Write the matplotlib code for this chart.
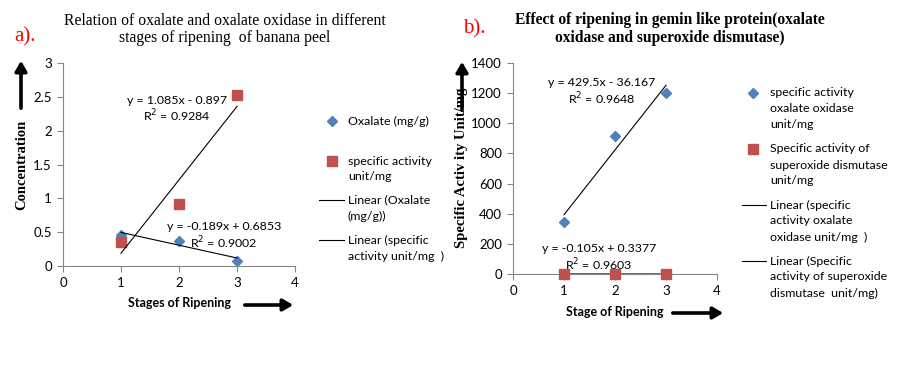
import matplotlib

matplotlib.use("Agg")
import matplotlib.pyplot as plt
import numpy as np
from matplotlib.lines import Line2D

# ---- data ----
stages = [1, 2, 3]

# panel a
oxalate = [0.46, 0.37, 0.08]
activity_a = [0.35, 0.92, 2.53]
fit_oxalate = (-0.189, 0.6853)
fit_activity_a = (1.085, -0.897)

# panel b
oxo_activity = [345, 915, 1200]
sod_activity = [0.2, 0.15, 0.05]
fit_oxo = (429.5, -36.167)
fit_sod = (-0.105, 0.3377)

BLUE = "#4F81BD"
RED = "#C0504D"
GREY = "#868686"
SANS = "Lato"
SERIF = "Liberation Serif"
TXT = 8.9

W, H = 899, 372
fig = plt.figure(figsize=(W / 100, H / 100), dpi=100)


def fx(px):
    return px / W


def fy(py):
    return 1 - py / H


def style_axes(ax, yticks):
    for side in ("top", "right"):
        ax.spines[side].set_visible(False)
    for side in ("left", "bottom"):
        ax.spines[side].set_color(GREY)
        ax.spines[side].set_linewidth(0.8)
    ax.set_xlim(0, 4)
    ax.set_xticks([0, 1, 2, 3, 4])
    ax.set_yticks(yticks)
    ax.tick_params(direction="out", length=4, width=0.8, color=GREY,
                   labelsize=9.5, pad=4)
    for lab in ax.get_xticklabels() + ax.get_yticklabels():
        lab.set_fontfamily(SANS)


def trend(ax, coef):
    xs = np.array([stages[0], stages[-1]])
    ax.plot(xs, coef[0] * xs + coef[1], color="black", lw=0.8)


def arrow(x0, y0, x1, y1):
    fig.add_artist(matplotlib.patches.FancyArrowPatch(
        (fx(x0), fy(y0)), (fx(x1), fy(y1)), transform=fig.transFigure,
        arrowstyle="-|>,head_length=6,head_width=3.5", mutation_scale=1,
        lw=2.6, color="black"))


def legend_marker(x, y, marker, color, ms):
    fig.add_artist(Line2D([fx(x)], [fy(y)], marker=marker, color=color,
                          ms=ms, ls="none", transform=fig.transFigure))


def legend_line(x0, x1, y):
    fig.add_artist(Line2D([fx(x0), fx(x1)], [fy(y), fy(y)], color="black",
                          lw=0.8, transform=fig.transFigure))


def legend_text(x, y, lines):
    for i, s in enumerate(lines):
        fig.text(fx(x), fy(y + 16 * i), s, fontsize=TXT, family=SANS,
                 va="center", ha="left")


def label(x, y, s):
    fig.text(fx(x), fy(y), s, family=SANS, fontsize=TXT, ha="center",
             va="center")


# ================= panel a =================
ax1 = fig.add_axes([fx(63), fy(266), fx(295 - 63), (266 - 63) / H])
ax1.plot(stages, oxalate, ls="none", marker="D", ms=5.5, color=BLUE)
ax1.plot(stages, activity_a, ls="none", marker="s", ms=7.5, color=RED)
trend(ax1, fit_oxalate)
trend(ax1, fit_activity_a)
ax1.set_ylim(0, 3)
style_axes(ax1, [0, 0.5, 1, 1.5, 2, 2.5, 3])
ax1.set_yticklabels(["0", "0.5", "1", "1.5", "2", "2.5", "3"])

fig.text(fx(225), fy(21), "Relation of oxalate and oxalate oxidase in different",
         family=SERIF, fontsize=11.3, ha="center", va="center")
fig.text(fx(225), fy(38), "stages of ripening  of banana peel",
         family=SERIF, fontsize=11.3, ha="center", va="center")
fig.text(fx(14), fy(37), "a).", family=SERIF, fontsize=15, color="red",
         ha="left", va="center")

label(177, 100, "y = 1.085x - 0.897")
label(177, 116, "R$^2$ = 0.9284")
label(224, 227, "y = -0.189x + 0.6853")
label(224, 243, "R$^2$ = 0.9002")

fig.text(fx(179), fy(303), "Stages of Ripening", family=SANS, fontsize=9,
         weight="bold", ha="center", va="center")
fig.text(fx(22), fy(165), "Concentration", family=SERIF, fontsize=10.5,
         weight="bold", rotation=90, ha="center", va="center")
arrow(21, 111, 21, 58)
arrow(242, 305, 296, 305)

legend_marker(332, 121, "D", BLUE, 5)
legend_text(348, 121, ["Oxalate (mg/g)"])
legend_marker(332, 161, "s", RED, 7)
legend_text(348, 161, ["specific activity", "unit/mg"])
legend_line(319, 344, 200)
legend_text(348, 200, ["Linear (Oxalate", "(mg/g))"])
legend_line(319, 344, 240)
legend_text(348, 240, ["Linear (specific", "activity unit/mg  )"])

# ================= panel b =================
ax2 = fig.add_axes([fx(513), fy(274), fx(717 - 513), (274 - 63) / H])
ax2.plot(stages, oxo_activity, ls="none", marker="D", ms=5.5, color=BLUE)
ax2.plot(stages, sod_activity, ls="none", marker="s", ms=7.5, color=RED,
         clip_on=False, zorder=5)
trend(ax2, fit_oxo)
trend(ax2, fit_sod)
ax2.set_ylim(0, 1400)
style_axes(ax2, [0, 200, 400, 600, 800, 1000, 1200, 1400])

fig.text(fx(670), fy(20), "Effect of ripening in gemin like protein(oxalate",
         family=SERIF, fontsize=11.2, weight="bold", ha="center", va="center")
fig.text(fx(670), fy(38), "oxidase and superoxide dismutase)",
         family=SERIF, fontsize=11.2, weight="bold", ha="center", va="center")
fig.text(fx(463), fy(29), "b).", family=SERIF, fontsize=15, color="red",
         ha="left", va="center")

label(602, 83, "y = 429.5x - 36.167")
label(602, 99, "R$^2$ = 0.9648")
label(599, 249, "y = -0.105x + 0.3377")
label(599, 265, "R$^2$ = 0.9603")

fig.text(fx(615), fy(312), "Stage of Ripening", family=SANS, fontsize=9,
         weight="bold", ha="center", va="center")
fig.text(fx(462), fy(168), "Specific Activ ity Unit/mg", family=SERIF,
         fontsize=10.5, weight="bold", rotation=90, ha="center", va="center")
arrow(462, 113, 462, 59)
arrow(670, 313, 726, 313)

legend_marker(753, 93, "D", BLUE, 5)
legend_text(770, 93, ["specific activity", "oxalate oxidase", "unit/mg"])
legend_marker(753, 149, "s", RED, 7)
legend_text(770, 149, ["Specific activity of", "superoxide dismutase", "unit/mg"])
legend_line(742, 766, 205)
legend_text(770, 205, ["Linear (specific", "activity oxalate", "oxidase unit/mg  )"])
legend_line(742, 766, 261)
legend_text(770, 261, ["Linear (Specific", "activity of superoxide",
                       "dismutase  unit/mg)"])

fig.savefig("out.png", dpi=100)
